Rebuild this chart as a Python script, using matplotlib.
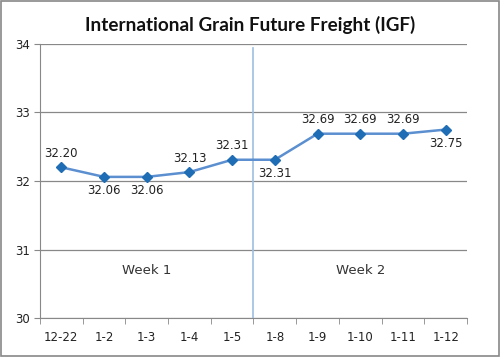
import matplotlib
matplotlib.use('Agg')
import matplotlib.pyplot as plt
from matplotlib.patches import Rectangle

dates = ['12-22', '1-2', '1-3', '1-4', '1-5', '1-8', '1-9', '1-10', '1-11', '1-12']
igf = [32.20, 32.06, 32.06, 32.13, 32.31, 32.31, 32.69, 32.69, 32.69, 32.75]
label_pos = ['above', 'below', 'below', 'above', 'above', 'below', 'above', 'above', 'above', 'below']
weeks = ['Week 1', 'Week 2']

fig = plt.figure(figsize=(5, 3.57), dpi=100)
ax = fig.add_axes([0.08, 0.109, 0.854, 0.768])

x = list(range(len(dates)))
ax.plot(x, igf, color='#5b8fd0', lw=1.8, marker='D', markersize=5.5,
        markerfacecolor='#1f6db5', markeredgecolor='#1f6db5', zorder=3)
for xi, v, p in zip(x, igf, label_pos):
    dy = 10 if p == 'above' else -10
    ax.annotate('%.2f' % v, (xi, v), xytext=(0, dy), textcoords='offset points',
                ha='center', va='center', fontsize=8.5, color='#222222')

# week divider
ax.axvline(4.5, ymin=0, ymax=0.985, color='#9dbfe0', lw=1.2, zorder=2)
ax.text(2, 30.7, weeks[0], ha='center', va='center', fontsize=9.5, color='#333333')
ax.text(7, 30.7, weeks[1], ha='center', va='center', fontsize=9.5, color='#333333')

ax.set_xlim(-0.5, len(dates) - 0.5)
ax.set_ylim(30, 34)
ax.set_yticks([30, 31, 32, 33, 34])
ax.yaxis.grid(True, color='#888888', lw=0.9)
ax.set_axisbelow(True)
ax.set_xticks(x)
ax.set_xticklabels(dates, fontsize=8.5, color='#222222')
ax.tick_params(axis='x', length=0, pad=9)
ax.set_xticks([i + 0.5 for i in range(-1, len(dates))], minor=True)
ax.tick_params(axis='x', which='minor', length=4, color='#888888')
ax.tick_params(axis='y', labelsize=8.5, length=4, color='#888888', labelcolor='#222222')
for s in ['top', 'right']:
    ax.spines[s].set_visible(False)
ax.spines['left'].set_color('#888888')
ax.spines['bottom'].set_color('#888888')

fig.suptitle('International Grain Future Freight (IGF)', y=0.955, fontsize=13.6,
             fontweight='bold', family='Lato', color='#111111')
fig.patches.append(Rectangle((0.002, 0.003), 0.995, 0.993, transform=fig.transFigure,
                             fill=False, edgecolor='#888888', lw=1.2))

fig.savefig('out.png', dpi=100)
